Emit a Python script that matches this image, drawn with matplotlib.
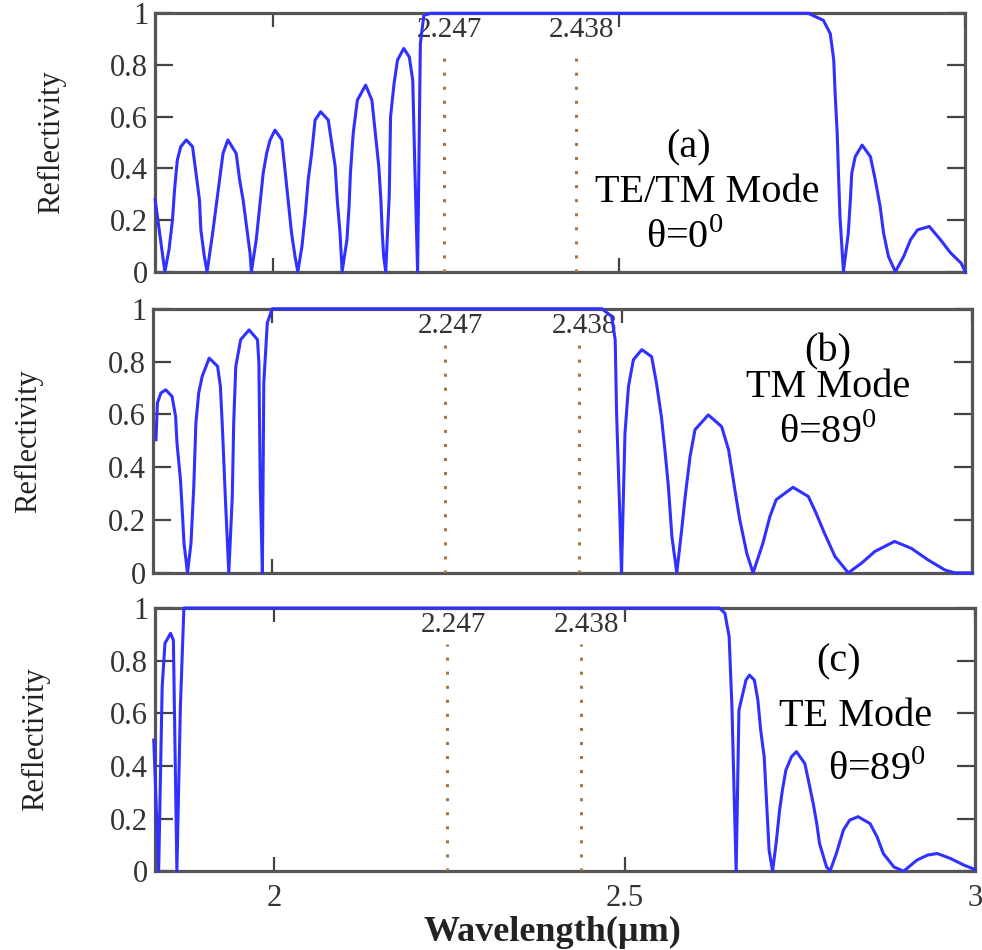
import matplotlib
matplotlib.use("Agg")
import matplotlib.pyplot as plt

plt.rcParams['font.family'] = ['Liberation Serif', 'DejaVu Serif']
plt.rcParams['mathtext.fontset'] = 'custom'
plt.rcParams['mathtext.rm'] = 'Liberation Serif'

# (a) TE/TM, theta = 0
wl_a = [1.830, 1.844, 1.850, 1.855, 1.858, 1.862, 1.867, 1.875, 1.884, 1.889, 1.894, 1.896, 1.901, 1.905,
        1.913, 1.918, 1.923, 1.928, 1.935, 1.947, 1.952, 1.957, 1.962, 1.967, 1.969,
        1.976, 1.981, 1.986, 1.991, 1.996, 2.003, 2.013, 2.017, 2.022, 2.027, 2.032, 2.036,
        2.042, 2.047, 2.051, 2.056, 2.061, 2.069, 2.080, 2.085, 2.090, 2.093, 2.097, 2.100,
        2.107, 2.110, 2.112, 2.116, 2.122, 2.134, 2.143, 2.148, 2.153, 2.156, 2.158, 2.160, 2.163,
        2.168, 2.170, 2.175, 2.180, 2.189, 2.197, 2.202, 2.205, 2.209, 2.213, 2.218, 2.228,
        2.773, 2.795, 2.805, 2.810, 2.812, 2.815, 2.817, 2.819, 2.822, 2.824,
        2.831, 2.834, 2.836, 2.841, 2.851, 2.863, 2.870, 2.877, 2.882, 2.889, 2.899,
        2.911, 2.921, 2.931, 2.948, 2.964, 2.979, 2.994, 3.000]
R_a = [0.278, 0.0, 0.085, 0.200, 0.317, 0.432, 0.484, 0.510, 0.484, 0.381, 0.278, 0.162, 0.059, 0.0,
       0.149, 0.252, 0.355, 0.458, 0.510, 0.458, 0.355, 0.278, 0.175, 0.072, 0.0,
       0.124, 0.252, 0.381, 0.458, 0.510, 0.548, 0.510, 0.407, 0.278, 0.149, 0.059, 0.0,
       0.098, 0.227, 0.355, 0.458, 0.587, 0.619, 0.587, 0.497, 0.407, 0.278, 0.149, 0.0,
       0.124, 0.252, 0.381, 0.535, 0.664, 0.722, 0.664, 0.535, 0.407, 0.278, 0.149, 0.059, 0.0,
       0.291, 0.600, 0.728, 0.819, 0.864, 0.831, 0.741, 0.407, 0.0, 0.883, 0.992, 1.0,
       1.0, 0.973, 0.921, 0.819, 0.690, 0.535, 0.368, 0.214, 0.085, 0.0,
       0.149, 0.278, 0.381, 0.445, 0.490, 0.445, 0.355, 0.252, 0.149, 0.059, 0.0,
       0.059, 0.124, 0.162, 0.175, 0.124, 0.072, 0.033, 0.0]

# (b) TM, theta = 89
wl_b = [1.834, 1.836, 1.841, 1.848, 1.857, 1.862, 1.864, 1.869, 1.872, 1.874, 1.879,
        1.884, 1.888, 1.891, 1.895, 1.900, 1.910, 1.922, 1.926, 1.929, 1.933, 1.938,
        1.943, 1.945, 1.948, 1.955, 1.967, 1.979, 1.981, 1.983, 1.986,
        1.988, 1.993, 2.000,
        2.471, 2.485, 2.490, 2.492, 2.497, 2.499,
        2.504, 2.509, 2.516, 2.528, 2.542, 2.549, 2.556, 2.561, 2.566, 2.571, 2.578,
        2.585, 2.590, 2.597, 2.604, 2.623, 2.642, 2.652, 2.661, 2.668, 2.678, 2.687,
        2.701, 2.711, 2.720, 2.744, 2.766, 2.777, 2.789, 2.804, 2.823,
        2.842, 2.861, 2.889, 2.913, 2.937, 2.961, 2.975, 3.000]
R_b = [0.504, 0.643, 0.681, 0.693, 0.668, 0.592, 0.491, 0.352, 0.213, 0.112, 0.0,
       0.112, 0.327, 0.567, 0.681, 0.744, 0.813, 0.782, 0.706, 0.542, 0.289, 0.0,
       0.289, 0.567, 0.782, 0.883, 0.920, 0.883, 0.794, 0.327, 0.0,
       0.718, 0.946, 1.0,
       1.0, 0.971, 0.883, 0.605, 0.188, 0.0,
       0.529, 0.706, 0.807, 0.845, 0.819, 0.718, 0.592, 0.466, 0.327, 0.138, 0.0,
       0.163, 0.289, 0.441, 0.542, 0.598, 0.554, 0.466, 0.314, 0.201, 0.074, 0.0,
       0.112, 0.213, 0.277, 0.324, 0.289, 0.226, 0.150, 0.062, 0.0,
       0.037, 0.081, 0.119, 0.093, 0.049, 0.011, 0.0, 0.0]

# (c) TE, theta = 89
wl_c = [1.828, 1.835, 1.840, 1.844, 1.852, 1.856, 1.861, 1.866, 1.871,
        2.635, 2.643, 2.649, 2.653, 2.656, 2.659,
        2.663, 2.673, 2.678, 2.685, 2.690, 2.694, 2.699, 2.702, 2.706, 2.711,
        2.716, 2.721, 2.725, 2.730, 2.738, 2.745, 2.757, 2.764, 2.769, 2.774, 2.778, 2.788, 2.793,
        2.802, 2.812, 2.821, 2.833, 2.850, 2.860, 2.869, 2.884, 2.898,
        2.917, 2.932, 2.946, 2.965, 2.984, 3.000]
R_c = [0.498, 0.0, 0.700, 0.866, 0.904, 0.878, 0.0, 0.625, 1.0,
       1.0, 0.980, 0.891, 0.625, 0.308, 0.0,
       0.612, 0.726, 0.745, 0.726, 0.650, 0.536, 0.435, 0.283, 0.080, 0.0,
       0.105, 0.232, 0.308, 0.384, 0.435, 0.454, 0.409, 0.321, 0.257, 0.181, 0.105, 0.016, 0.0,
       0.067, 0.156, 0.194, 0.207, 0.181, 0.131, 0.067, 0.016, 0.0,
       0.042, 0.061, 0.067, 0.048, 0.023, 0.006]

edges = [2.247, 2.438]
yticks = [0, 0.2, 0.4, 0.6, 0.8, 1.0]
ytick_labels = ['0', '0.2', '0.4', '0.6', '0.8', '1']
xticks = [2, 2.5, 3]
xtick_labels = ['2', '2.5', '3']

# data, notes, note positions (axes frac), axes rect, ylabel x (axes frac)
panels = [
    (wl_a, R_a, ['(a)', 'TE/TM Mode', r'θ=0$^{0}$'],
     [(0.658, 0.479), (0.681, 0.305), (0.654, 0.131)], [0.158, 0.714, 0.825, 0.272], -0.11),
    (wl_b, R_b, ['(b)', 'TM Mode', r'θ=89$^{0}$'],
     [(0.824, 0.837), (0.824, 0.70), (0.824, 0.53)], [0.156, 0.397, 0.834, 0.278], -0.135),
    (wl_c, R_c, ['(c)', 'TE Mode', r'θ=89$^{0}$'],
     [(0.833, 0.795), (0.854, 0.589), (0.88, 0.384)], [0.158, 0.083, 0.835, 0.277], -0.128),
]

fig = plt.figure(figsize=(9.82, 9.5), dpi=100)
blue = '#3030ff'
brown = '#a8763e'
tcol = '#333333'

axes = []
for i, (wl, R, notes, pos, rect, ylx) in enumerate(panels):
    ax = fig.add_axes(rect)
    ax.plot(wl, R, color=blue, lw=2.2, zorder=4, clip_on=False)
    for e in edges:
        ax.plot([e, e], [0, 0.865], color=brown, lw=2.2, ls=(0, (1, 3.6)), zorder=3)
        ax.text(e + 0.008, 0.935, f'{e:.3f}', ha='center', va='center', fontsize=21, color=tcol)
    for txt, (px, py) in zip(notes, pos):
        ax.text(px, py, txt, transform=ax.transAxes, ha='center', va='center',
                fontsize=29, color='black')
    ax.set_xlim(1.83, 3.0)
    ax.set_ylim(0, 1)
    ax.set_yticks(yticks)
    ax.set_yticklabels(ytick_labels)
    ax.set_xticks(xticks)
    if i == 2:
        ax.set_xticklabels(xtick_labels)
    else:
        ax.set_xticklabels([])
    ax.tick_params(axis='both', direction='in', colors='#444444', labelcolor=tcol,
                   labelsize=22, width=1.6, top=True, right=True)
    ax.tick_params(axis='y', length=13, pad=5)
    ax.tick_params(axis='x', length=10, pad=9)
    for s in ax.spines.values():
        s.set_linewidth(2.3)
        s.set_color('#555555')
    ax.set_ylabel('Reflectivity', fontsize=22, color='#222222')
    ax.yaxis.set_label_coords(ylx, 0.5)
    axes.append(ax)

axes[2].set_xlabel('Wavelength(µm)', fontsize=26, fontweight='bold', color='#222222')
axes[2].xaxis.set_label_coords(0.484, -0.17)

fig.savefig('out.png', dpi=100)
